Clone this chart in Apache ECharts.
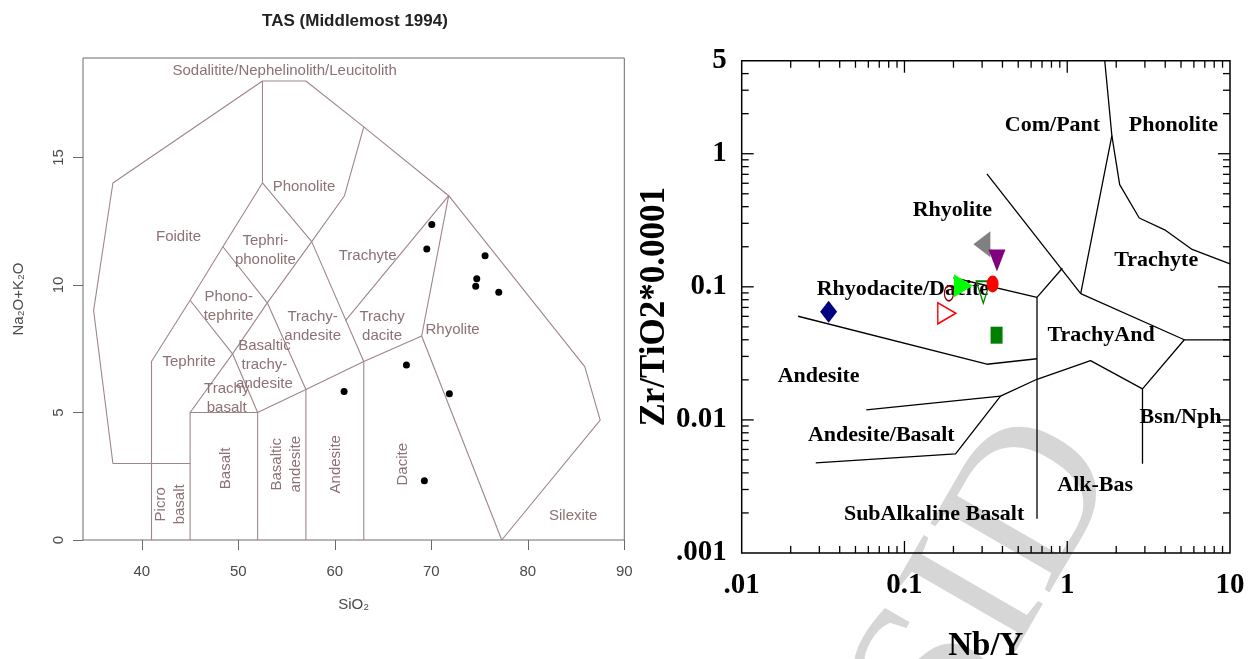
<!DOCTYPE html>
<html>
<head>
<meta charset="utf-8">
<script src="https://cdn.jsdelivr.net/npm/echarts@6/dist/echarts.min.js"></script>
<style>
  html, body { margin: 0; padding: 0; background: #ffffff; }
  #chart { width: 1254px; height: 659px; }
</style>
</head>
<body>
<div id="chart"></div>
<script>
// ---------- TAS diagram (Middlemost 1994): SiO2 vs Na2O+K2O ----------
const tasXTicks = [40, 50, 60, 70, 80, 90];
const tasYTicks = [0, 5, 10, 15];

// field boundaries, each a polyline of [SiO2, Na2O+K2O]
const tasOuter = [[45, 3], [37, 3], [35, 9], [37, 14], [52.5, 18], [57, 18], [63, 16.2], [71.8, 13.5], [85.9, 6.8], [87.5, 4.7], [77.3, 0]];
const tasLeftEdge = [[41, 0], [41, 7], [45, 9.4], [48.4, 11.5], [52.5, 14], [52.5, 18]];
const tasBasaltBox = [[45, 0], [45, 5], [52, 5], [52, 0]];
const tasSubalkTop = [[52, 5], [57, 5.9], [63, 7], [69, 8], [71.8, 13.5]];
const tasAndesiteLeft = [[57, 0], [57, 5.9]];
const tasDaciteLeft = [[63, 0], [63, 7]];
const tasDaciteRight = [[69, 8], [77.3, 0]];
const tasAlkLine = [[45, 5], [49.4, 7.3], [53, 9.3], [57.6, 11.7], [61, 13.5], [63, 16.2]];
const tasDiag1 = [[45, 9.4], [49.4, 7.3], [52, 5]];
const tasDiag2 = [[48.4, 11.5], [53, 9.3], [57, 5.9]];
const tasDiag3 = [[52.5, 14], [57.6, 11.7], [63, 7]];
const tasTrachyteSplit = [[61.1, 8.6], [71.8, 13.5]];
const tasBoundaries = [tasOuter, tasLeftEdge, tasBasaltBox, tasSubalkTop, tasAndesiteLeft,
  tasDaciteLeft, tasDaciteRight, tasAlkLine, tasDiag1, tasDiag2, tasDiag3, tasTrachyteSplit];

// field names: [SiO2, Na2O+K2O, text, rotation]
const tasFieldLabels = [
  [54.8, 18.4, 'Sodalitite/Nephelinolith/Leucitolith', 0],
  [56.8, 13.86, 'Phonolite', 0],
  [43.8, 11.88, 'Foidite', 0],
  [52.8, 11.35, 'Tephri-\nphonolite', 0],
  [63.4, 11.14, 'Trachyte', 0],
  [49.0, 9.16, 'Phono-\ntephrite', 0],
  [57.7, 8.38, 'Trachy-\nandesite', 0],
  [64.9, 8.38, 'Trachy\ndacite', 0],
  [72.2, 8.23, 'Rhyolite', 0],
  [44.9, 6.98, 'Tephrite', 0],
  [52.7, 6.86, 'Basaltic\ntrachy-\nandesite', 0],
  [48.8, 5.57, 'Trachy\nbasalt', 0],
  [48.7, 2.81, 'Basalt', 90],
  [55.0, 2.97, 'Basaltic\nandesite', 90],
  [60.1, 2.97, 'Andesite', 90],
  [67.1, 2.97, 'Dacite', 90],
  [43.0, 1.4, 'Picro\nbasalt', 90],
  [84.7, 0.94, 'Silexite', 0]
];

// analysed samples
const tasSiO2 = [70.05, 69.53, 75.57, 74.71, 74.60, 76.99, 67.42, 60.96, 71.87, 69.28];
const tasAlkali = [12.37, 11.41, 11.15, 10.24, 9.95, 9.71, 6.86, 5.82, 5.73, 2.32];

// ---------- Winchester & Floyd: Nb/Y vs Zr/TiO2*0.0001 ----------
const wfXTicks = [0.01, 0.1, 1, 10];
const wfXTickText = ['.01', '0.1', '1', '10'];
const wfYTicks = [0.001, 0.01, 0.1, 1, 5];
const wfYTickText = ['.001', '0.01', '0.1', '1', '5'];

const wfRhyComPant = [[0.321, 0.705], [1.21, 0.089]];
const wfComPantPhon = [[1.7, 5], [1.88, 1.37], [1.21, 0.089]];
const wfPhonTrachyte = [[1.88, 1.37], [2.10, 0.586], [2.77, 0.329], [3.97, 0.268], [5.85, 0.191], [10, 0.149]];
const wfTrachyteTA = [[1.21, 0.089], [5.24, 0.040], [10, 0.040]];
const wfBsnNph = [[5.24, 0.040], [2.90, 0.0171], [2.90, 0.00469]];
const wfAlkBasTop = [[2.90, 0.0171], [1.39, 0.0279], [0.652, 0.0202], [0.389, 0.0151], [0.206, 0.00556], [0.0285, 0.00475]];
const wfAndBasTop = [[0.0583, 0.0119], [0.389, 0.0151]];
const wfDaciteBase = [[0.0222, 0.0601], [0.321, 0.0262], [0.652, 0.0288]];
const wfAlkVertical = [[0.652, 0.0834], [0.652, 0.00181]];
const wfRhyDacite = [[0.2, 0.117], [0.652, 0.0834]];
const wfTrachyAndTop = [[0.652, 0.0834], [0.933, 0.138]];
const wfBoundaries = [wfRhyComPant, wfComPantPhon, wfPhonTrachyte, wfTrachyteTA, wfBsnNph,
  wfAlkBasTop, wfAndBasTop, wfDaciteBase, wfAlkVertical, wfRhyDacite, wfTrachyAndTop];

const wfFieldLabels = [
  [0.812, 1.627, 'Com/Pant'],
  [4.49, 1.627, 'Phonolite'],
  [0.197, 0.377, 'Rhyolite'],
  [3.52, 0.159, 'Trachyte'],
  [0.0977, 0.0954, 'Rhyodacite/Dacite'],
  [1.613, 0.0434, 'TrachyAnd'],
  [0.0297, 0.0214, 'Andesite'],
  [4.96, 0.0104, 'Bsn/Nph'],
  [0.0720, 0.00766, 'Andesite/Basalt'],
  [1.484, 0.00322, 'Alk-Bas'],
  [0.152, 0.00194, 'SubAlkaline Basalt']
];

// sample ratios, one per marker
const wfNbY = [0.0342, 0.182, 0.1875, 0.230, 0.299, 0.305, 0.348, 0.368, 0.370];
const wfZrTi = [0.065, 0.0632, 0.0893, 0.102, 0.209, 0.091, 0.105, 0.0433, 0.158];

// ---------- styles ----------
const ELLIPSE = 'path://M0,10 A10,10 0 1,1 20,10 A10,10 0 1,1 0,10 Z';
const wfMarkerStyles = [
  { symbol: 'diamond', size: [17, 22], rotate: 0, fill: '#000080', stroke: null },
  { symbol: 'triangle', size: [21, 18], rotate: -90, fill: 'rgba(0,0,0,0)', stroke: '#ff0000' },
  { symbol: ELLIPSE, size: [9, 15], rotate: 0, fill: 'rgba(0,0,0,0)', stroke: '#8b0000' },
  { symbol: 'triangle', size: [23, 19], rotate: -90, fill: '#00ff00', stroke: null },
  { symbol: 'triangle', size: [26, 17], rotate: 90, fill: '#808080', stroke: null },
  { symbol: 'triangle', size: [14, 22], rotate: 180, fill: 'rgba(0,0,0,0)', stroke: '#008000' },
  { symbol: ELLIPSE, size: [12, 17], rotate: 0, fill: '#ff0000', stroke: null },
  { symbol: 'rect', size: [12, 17], rotate: 0, fill: '#008000', stroke: null },
  { symbol: 'triangle', size: [17, 22], rotate: 180, fill: '#800080', stroke: null }
];

const TAS_LINE = '#9e8589';
const TAS_TEXT = '#8c7175';
const SANS = '"Liberation Sans", Arial, sans-serif';
const SERIF = '"Liberation Serif", "Times New Roman", serif';

function minorLogTicks(lo, hi) {
  const out = [];
  for (let d = lo; d < hi * 0.999; d *= 10) {
    for (let m = 2; m <= 9; m++) {
      const v = d * m;
      if (v < hi * 0.999) out.push(v);
    }
  }
  return out;
}

function tickText(ticks, texts) {
  return function (v) {
    for (let i = 0; i < ticks.length; i++) {
      if (Math.abs(Math.log10(ticks[i]) - Math.log10(v)) < 0.01) return texts[i];
    }
    return '';
  };
}

const series = [];

// TAS field boundaries
tasBoundaries.forEach(function (pl) {
  series.push({
    type: 'line', xAxisIndex: 0, yAxisIndex: 0, data: pl,
    symbol: 'none', silent: true, z: 2,
    lineStyle: { color: TAS_LINE, width: 1.1, opacity: 1 }
  });
});

// TAS field names
series.push({
  type: 'scatter', xAxisIndex: 0, yAxisIndex: 0, symbolSize: 0, silent: true, z: 3,
  itemStyle: { opacity: 1 },
  data: tasFieldLabels.map(function (d) {
    return { value: [d[0], d[1]], name: d[2], label: { rotate: d[3] } };
  }),
  label: {
    show: true, position: 'inside', formatter: '{b}', opacity: 1,
    fontFamily: SANS, fontSize: 15, lineHeight: 19, color: TAS_TEXT, align: 'center'
  }
});

// TAS samples
series.push({
  type: 'scatter', xAxisIndex: 0, yAxisIndex: 0, symbol: 'circle', symbolSize: 7, z: 4,
  itemStyle: { color: '#000000', opacity: 1 },
  data: tasSiO2.map(function (x, i) { return [x, tasAlkali[i]]; })
});

// Winchester & Floyd boundaries
wfBoundaries.forEach(function (pl) {
  series.push({
    type: 'line', xAxisIndex: 1, yAxisIndex: 1, data: pl,
    symbol: 'none', silent: true, z: 2,
    lineStyle: { color: '#000000', width: 1.3, opacity: 1 }
  });
});

// inner ticks on all four sides of the log box
series.push({
  type: 'custom', xAxisIndex: 1, yAxisIndex: 1, silent: true, z: 5,
  data: [[1, 1]],
  renderItem: function (params, api) {
    const cs = params.coordSys;
    const children = [];
    const seg = function (x1, y1, x2, y2) {
      children.push({ type: 'line', shape: { x1: x1, y1: y1, x2: x2, y2: y2 },
        style: { stroke: '#000000', lineWidth: 1.3 } });
    };
    const bottom = cs.y + cs.height, right = cs.x + cs.width;
    const xt = function (v, len) {
      const px = api.coord([v, 1])[0];
      seg(px, bottom, px, bottom - len);
      seg(px, cs.y, px, cs.y + len);
    };
    const yt = function (v, len) {
      const py = api.coord([1, v])[1];
      seg(cs.x, py, cs.x + len, py);
      seg(right, py, right - len, py);
    };
    minorLogTicks(0.01, 10).forEach(function (v) { xt(v, 7); });
    [0.1, 1].forEach(function (v) { xt(v, 12); });
    minorLogTicks(0.001, 5).forEach(function (v) { yt(v, 7); });
    [0.01, 0.1, 1].forEach(function (v) { yt(v, 12); });
    return { type: 'group', children: children };
  }
});

// Winchester & Floyd field names
series.push({
  type: 'scatter', xAxisIndex: 1, yAxisIndex: 1, symbolSize: 0, silent: true, z: 3,
  itemStyle: { opacity: 1 },
  data: wfFieldLabels.map(function (d) { return { value: [d[0], d[1]], name: d[2] }; }),
  label: {
    show: true, position: 'inside', formatter: '{b}', opacity: 1,
    fontFamily: SERIF, fontWeight: 'bold', fontSize: 22, color: '#000000'
  }
});

// Winchester & Floyd samples
series.push({
  type: 'scatter', xAxisIndex: 1, yAxisIndex: 1, z: 6,
  data: wfNbY.map(function (x, i) {
    const s = wfMarkerStyles[i];
    return {
      value: [x, wfZrTi[i]],
      symbol: s.symbol, symbolSize: s.size, symbolRotate: s.rotate,
      itemStyle: { color: s.fill, borderColor: s.stroke || s.fill,
        borderWidth: s.stroke ? 1.5 : 0, opacity: 1 }
    };
  })
});

const option = {
  animation: false,
  backgroundColor: '#ffffff',
  grid: [
    { left: 83, top: 58, width: 541.3, height: 482, show: true,
      borderColor: '#6b6b6b', borderWidth: 1, backgroundColor: 'transparent', outerBoundsMode: 'none' },
    { left: 741.7, top: 60.7, width: 488.3, height: 492.3, show: true,
      borderColor: '#000000', borderWidth: 1.5, backgroundColor: 'transparent', outerBoundsMode: 'none' }
  ],
  xAxis: [
    {
      gridIndex: 0, type: 'value', min: 33.9, max: 90,
      axisLine: { show: false },
      axisTick: { show: true, inside: false, length: 10, customValues: tasXTicks,
        lineStyle: { color: '#6b6b6b', width: 1 } },
      axisLabel: { customValues: tasXTicks, margin: 24, fontFamily: SANS, fontSize: 15, color: '#4a4a4a' },
      splitLine: { show: false },
      name: 'SiO₂', nameLocation: 'middle', nameGap: 57,
      nameTextStyle: { fontFamily: SANS, fontSize: 15, color: '#4a4a4a' }
    },
    {
      gridIndex: 1, type: 'log', logBase: 10, min: 0.01, max: 10,
      axisLine: { show: false }, axisTick: { show: false }, splitLine: { show: false },
      axisLabel: { formatter: tickText(wfXTicks, wfXTickText), margin: 18,
        fontFamily: SERIF, fontWeight: 'bold', fontSize: 29, color: '#000000',
        showMinLabel: true, showMaxLabel: true },
      name: 'Nb/Y', nameLocation: 'middle', nameGap: 77,
      nameTextStyle: { fontFamily: SERIF, fontWeight: 'bold', fontSize: 33, color: '#000000' }
    }
  ],
  yAxis: [
    {
      gridIndex: 0, type: 'value', min: 0, max: 18.9,
      axisLine: { show: false },
      axisTick: { show: true, inside: false, length: 10, customValues: tasYTicks,
        lineStyle: { color: '#6b6b6b', width: 1 } },
      axisLabel: { customValues: tasYTicks, rotate: 90, margin: 17, fontFamily: SANS, fontSize: 15, color: '#4a4a4a' },
      splitLine: { show: false },
      name: 'Na₂O+K₂O', nameLocation: 'middle', nameGap: 57,
      nameTextStyle: { fontFamily: SANS, fontSize: 15, color: '#4a4a4a' }
    },
    {
      gridIndex: 1, type: 'log', logBase: 10, min: 0.001, max: 5,
      axisLine: { show: false }, axisTick: { show: false }, splitLine: { show: false },
      axisLabel: { formatter: tickText(wfYTicks, wfYTickText), margin: 15,
        fontFamily: SERIF, fontWeight: 'bold', fontSize: 29, color: '#000000',
        showMinLabel: true, showMaxLabel: true },
      name: 'Zr/TiO2*0.0001', nameLocation: 'middle', nameGap: 60,
      nameTextStyle: { fontFamily: SERIF, fontWeight: 'bold', fontSize: 35, color: '#000000' }
    }
  ],
  graphic: [
    {
      type: 'text', x: 355, y: 21, z: 10,
      style: { text: 'TAS (Middlemost 1994)', font: 'bold 17px ' + SANS, fill: '#222222',
        align: 'center', verticalAlign: 'middle', textAlign: 'center', textVerticalAlign: 'middle' }
    },
    {
      type: 'text', x: 990, y: 585, rotation: Math.PI / 3, z: -1, silent: true,
      style: { text: 'SID', font: '210px ' + SERIF, fill: '#d6d6d6',
        align: 'center', verticalAlign: 'middle', textAlign: 'center', textVerticalAlign: 'middle' }
    }
  ],
  series: series
};

const chart = echarts.init(document.getElementById('chart'), null, { renderer: 'canvas' });
chart.setOption(option);
</script>
</body>
</html>
